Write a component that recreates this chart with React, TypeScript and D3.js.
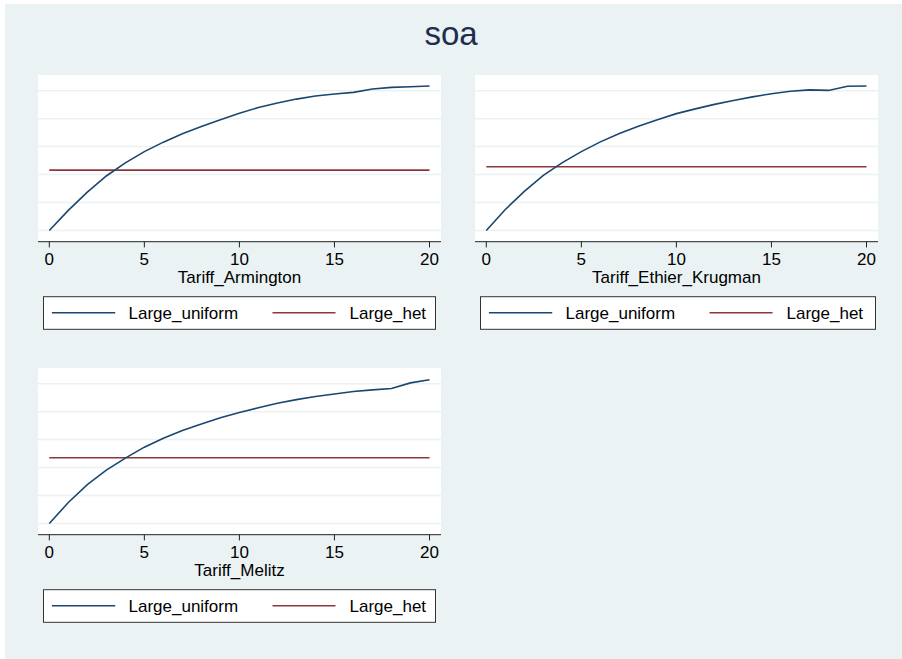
import React from "react";
import { scaleLinear, line } from "d3";

// tariff level on the x axis
const tariff = [0, 1, 2, 3, 4, 5, 6, 7, 8, 9, 10, 11, 12, 13, 14, 15, 16, 17, 18, 19, 20];
const xTicks = [0, 5, 10, 15, 20];
const yGrid = [0, 1, 2, 3, 4, 5];

const armingtonUniform = [0, 0.72, 1.37, 1.95, 2.42, 2.82, 3.16, 3.46, 3.72, 3.96, 4.19, 4.4, 4.56, 4.7, 4.81, 4.88, 4.94, 5.06, 5.12, 5.14, 5.17];
const armingtonHet = [2.16, 2.16, 2.16, 2.16, 2.16, 2.16, 2.16, 2.16, 2.16, 2.16, 2.16, 2.16, 2.16, 2.16, 2.16, 2.16, 2.16, 2.16, 2.16, 2.16, 2.16];

const ekUniform = [0, 0.75, 1.4, 1.97, 2.43, 2.82, 3.17, 3.47, 3.73, 3.96, 4.18, 4.35, 4.51, 4.65, 4.78, 4.89, 4.98, 5.03, 5.01, 5.16, 5.17];
const ekHet = [2.28, 2.28, 2.28, 2.28, 2.28, 2.28, 2.28, 2.28, 2.28, 2.28, 2.28, 2.28, 2.28, 2.28, 2.28, 2.28, 2.28, 2.28, 2.28, 2.28, 2.28];

const melitzUniform = [0, 0.75, 1.39, 1.91, 2.34, 2.73, 3.05, 3.33, 3.56, 3.78, 3.97, 4.14, 4.3, 4.43, 4.54, 4.63, 4.72, 4.78, 4.83, 5.03, 5.14];
const melitzHet = [2.35, 2.35, 2.35, 2.35, 2.35, 2.35, 2.35, 2.35, 2.35, 2.35, 2.35, 2.35, 2.35, 2.35, 2.35, 2.35, 2.35, 2.35, 2.35, 2.35, 2.35];

const seriesNames = ["Large_uniform", "Large_het"];
const title = "soa";

const BLUE = "#1a476f";
const RED = "#90353b";
const BG = "#eaf2f3";
const FONT = "'Liberation Sans', Arial, sans-serif";

const panels = [
  { label: "Tariff_Armington", uniform: armingtonUniform, het: armingtonHet, x: 38, y: 75, legW: 392 },
  { label: "Tariff_Ethier_Krugman", uniform: ekUniform, het: ekHet, x: 475, y: 75, legW: 395 },
  { label: "Tariff_Melitz", uniform: melitzUniform, het: melitzHet, x: 38, y: 368, legW: 392 },
];

const PW = 403;
const PH = 166.7;

function Panel({ p }) {
  const axisY = p.y + PH;
  const xScale = scaleLinear().domain([0, 20]).range([p.x + 11.3, p.x + PW - 11.5]);
  const yScale = scaleLinear().domain([0, 5]).range([axisY - 11.2, axisY - 151]);
  const path = line<number>()
    .x((d, i) => xScale(tariff[i]))
    .y(d => yScale(d));
  const cx = p.x + PW / 2;
  const lx = p.x + 5.5;
  const ly = axisY + 55;

  return (
    <g>
      <rect x={p.x} y={p.y} width={PW} height={PH} fill="#fff" />
      {yGrid.map(v => (
        <line key={v} x1={p.x} x2={p.x + PW} y1={yScale(v)} y2={yScale(v)} stroke={BG} strokeWidth={1.5} />
      ))}
      <path d={path(p.het) || ""} fill="none" stroke={RED} strokeWidth={1.6} />
      <path d={path(p.uniform) || ""} fill="none" stroke={BLUE} strokeWidth={1.6} />
      <line x1={p.x} x2={p.x + PW} y1={axisY} y2={axisY} stroke="#222" strokeWidth={1} />
      {xTicks.map(t => (
        <g key={t}>
          <line x1={xScale(t)} x2={xScale(t)} y1={axisY} y2={axisY + 5.7} stroke="#222" strokeWidth={1} />
          <text x={xScale(t)} y={axisY + 23.4} textAnchor="middle" fontSize={17} fontFamily={FONT} fill="#000">
            {t}
          </text>
        </g>
      ))}
      <text x={cx} y={axisY + 40.8} textAnchor="middle" fontSize={17} fontFamily={FONT} fill="#000">
        {p.label}
      </text>
      <rect x={lx} y={ly} width={p.legW} height={32.6} fill="#fff" stroke="#333" strokeWidth={1} />
      <line x1={lx + 8.4} x2={lx + 71.7} y1={ly + 16} y2={ly + 16} stroke={BLUE} strokeWidth={1.6} />
      <text x={lx + 85} y={ly + 22.6} fontSize={17} fontFamily={FONT} fill="#000">{seriesNames[0]}</text>
      <line x1={lx + 229} x2={lx + 292} y1={ly + 16} y2={ly + 16} stroke={RED} strokeWidth={1.6} />
      <text x={lx + 306} y={ly + 22.6} fontSize={17} fontFamily={FONT} fill="#000">{seriesNames[1]}</text>
    </g>
  );
}

export default function App() {
  return (
    <svg width={902} height={659} style={{ position: "absolute", left: 0, top: 0 }}>
      <rect x={0} y={0} width={902} height={659} fill="#fff" />
      <rect x={5} y={4} width={897} height={655} fill={BG} />
      <text x={451} y={45} textAnchor="middle" fontSize={33} fontFamily={FONT} fill="#1e2d4f">
        {title}
      </text>
      {panels.map(p => (
        <Panel key={p.label} p={p} />
      ))}
    </svg>
  );
}
